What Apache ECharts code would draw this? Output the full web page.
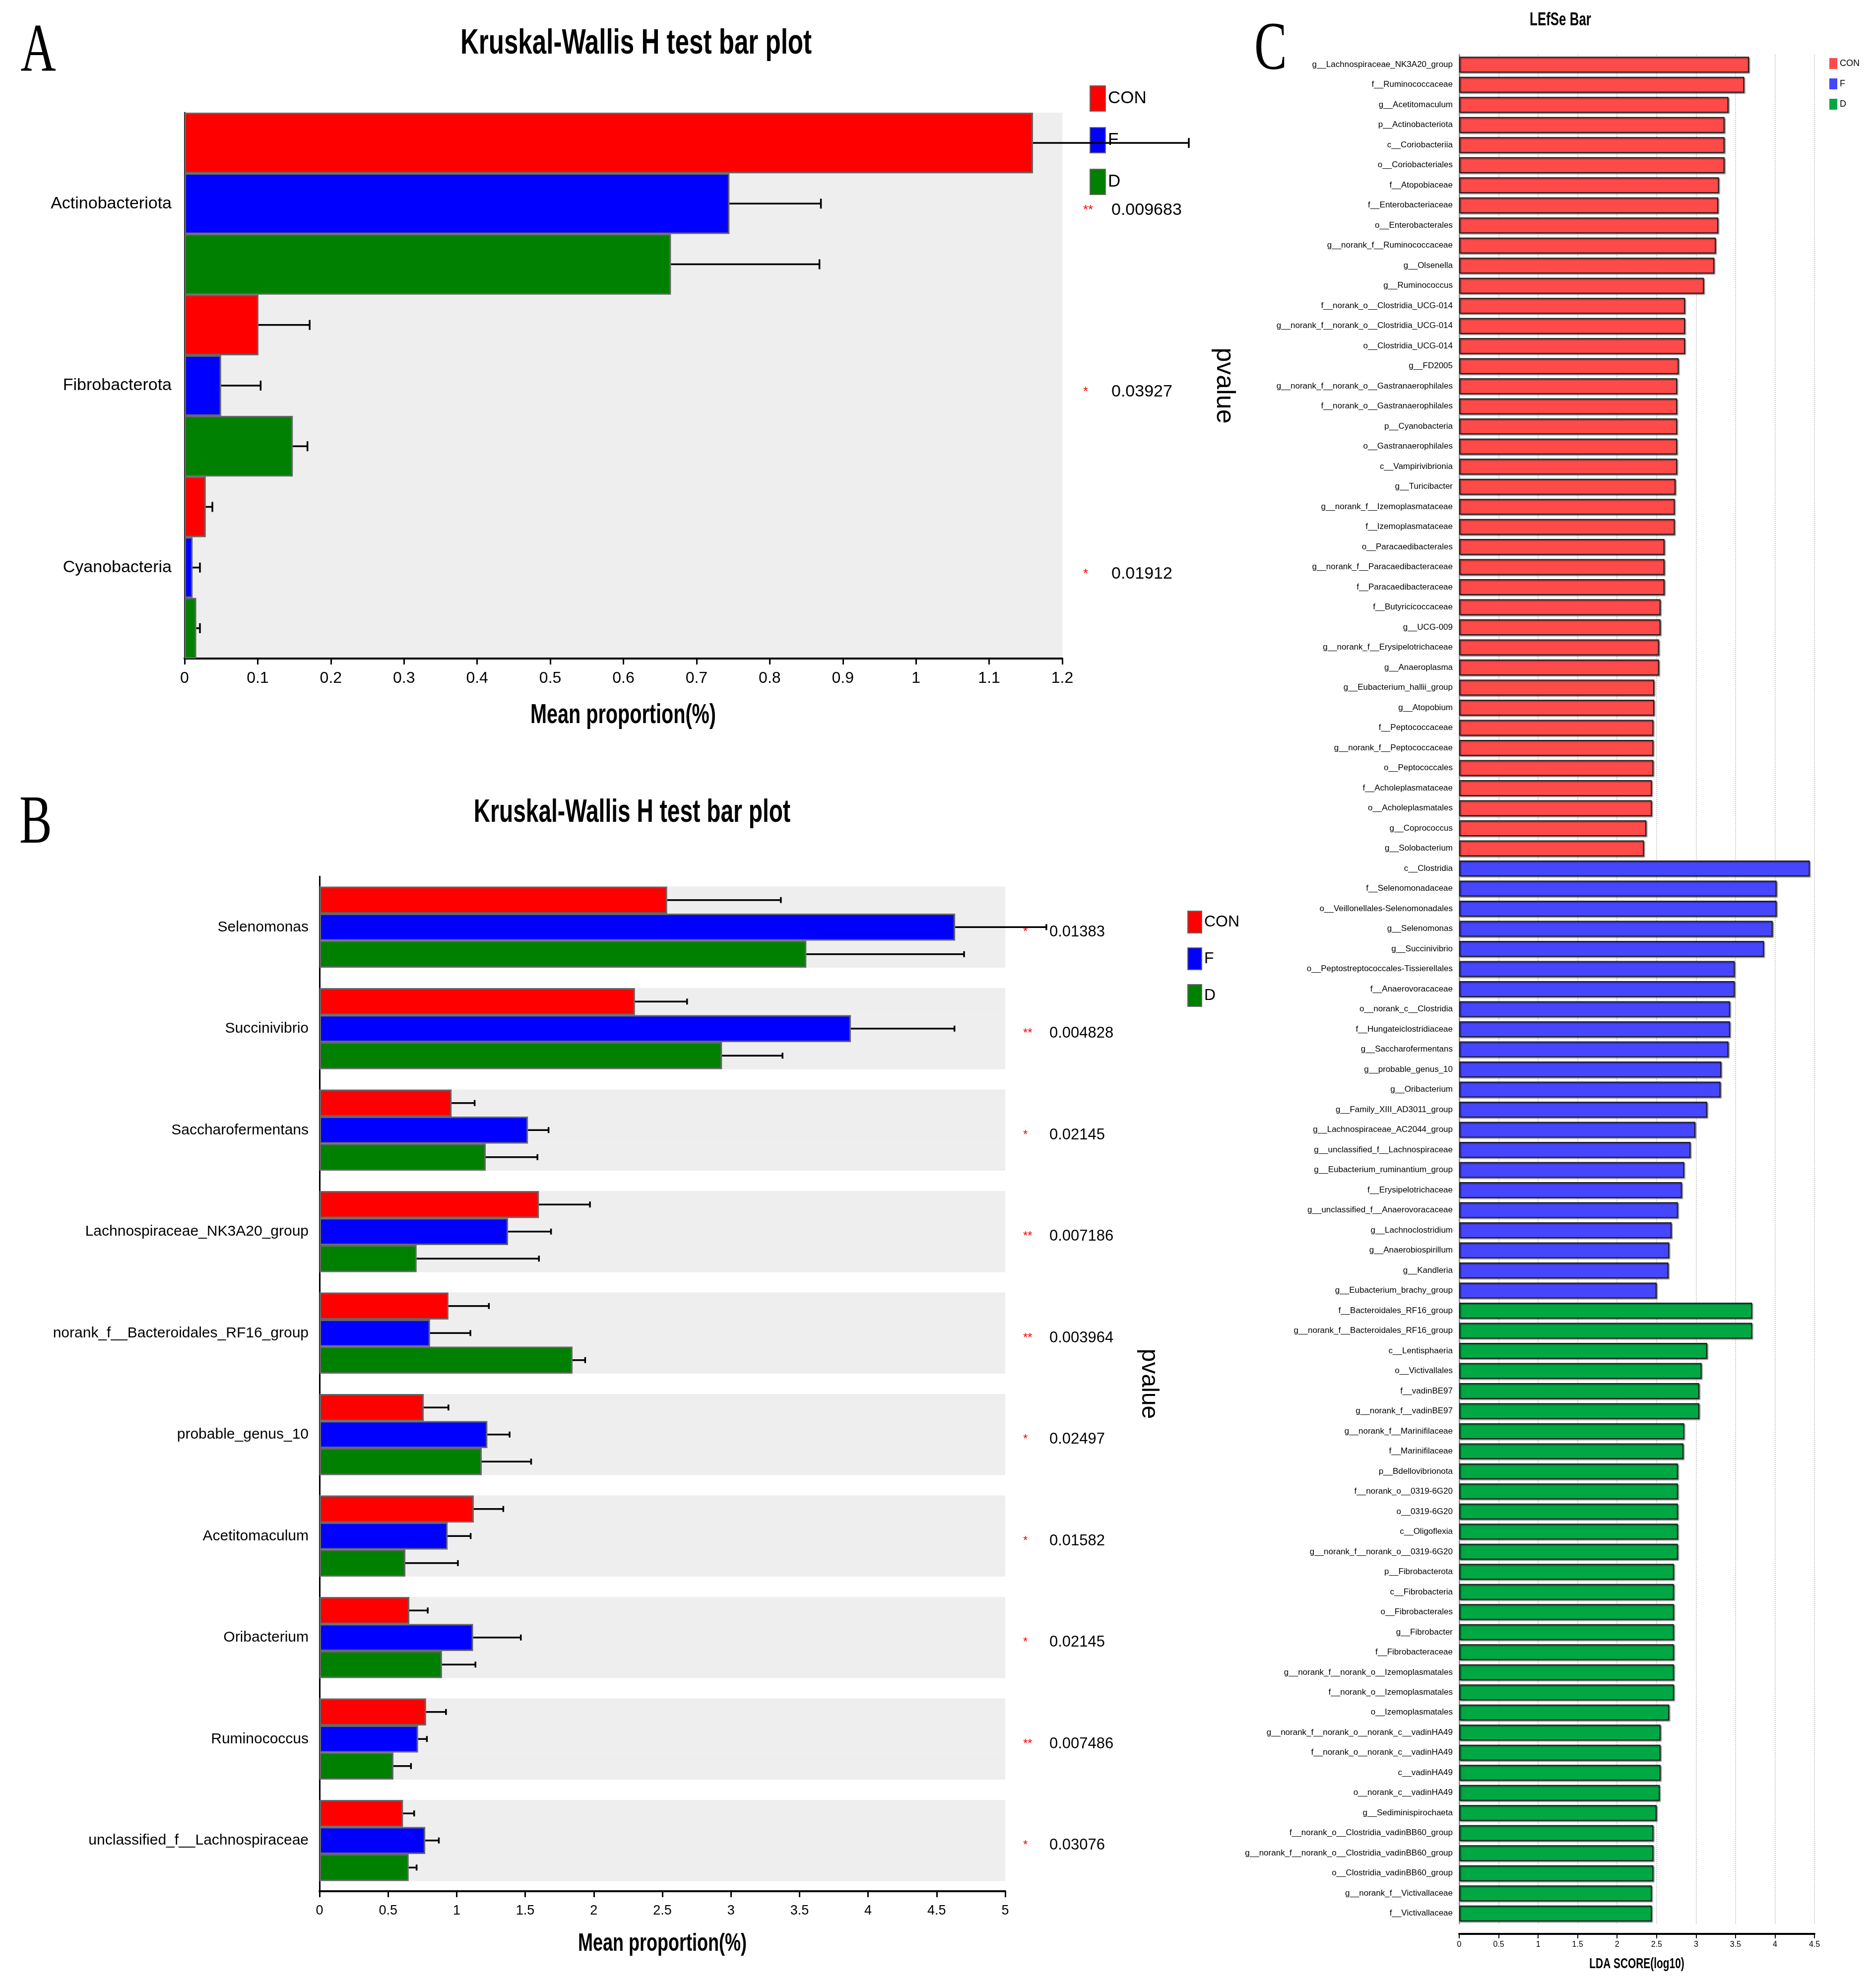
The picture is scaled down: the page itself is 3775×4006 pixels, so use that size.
<!DOCTYPE html>
<html><head><meta charset="utf-8">
<script src="https://cdn.jsdelivr.net/npm/echarts@6/dist/echarts.min.js"></script>
<style>html,body{margin:0;padding:0;background:#fff}#c{width:3775px;height:4006px}</style>
</head><body><div id="c"></div>
<script>
// ---------- Panel A data ----------
const catA = ['Actinobacteriota', 'Fibrobacterota', 'Cyanobacteria'];
const meanA_CON = [1.160, 0.101, 0.029];
const sdA_CON   = [0.213, 0.070, 0.009];
const meanA_F   = [0.745, 0.050, 0.011];
const sdA_F     = [0.125, 0.054, 0.010];
const meanA_D   = [0.665, 0.148, 0.016];
const sdA_D     = [0.203, 0.020, 0.005];
const pA    = ['0.009683', '0.03927', '0.01912'];
const starA = ['**', '*', '*'];
const ticksA = {min: 0, max: 1.2, interval: 0.1};

// ---------- Panel B data ----------
const catB = ['Selenomonas', 'Succinivibrio', 'Saccharofermentans', 'Lachnospiraceae_NK3A20_group',
  'norank_f__Bacteroidales_RF16_group', 'probable_genus_10', 'Acetitomaculum', 'Oribacterium',
  'Ruminococcus', 'unclassified_f__Lachnospiraceae'];
const meanB_CON = [2.535, 2.300, 0.963, 1.600, 0.940, 0.760, 1.125, 0.655, 0.777, 0.609];
const sdB_CON   = [0.829, 0.380, 0.168, 0.372, 0.295, 0.180, 0.215, 0.134, 0.145, 0.081];
const meanB_F   = [4.635, 3.875, 1.520, 1.375, 0.806, 1.224, 0.934, 1.120, 0.719, 0.771];
const sdB_F     = [0.665, 0.755, 0.150, 0.313, 0.294, 0.162, 0.168, 0.348, 0.064, 0.099];
const meanB_D   = [3.550, 2.935, 1.212, 0.708, 1.845, 1.183, 0.626, 0.893, 0.539, 0.650];
const sdB_D     = [1.150, 0.441, 0.377, 0.892, 0.092, 0.360, 0.383, 0.244, 0.128, 0.058];
const pB    = ['0.01383', '0.004828', '0.02145', '0.007186', '0.003964', '0.02497', '0.01582', '0.02145', '0.007486', '0.03076'];
const starB = ['*', '**', '*', '**', '**', '*', '*', '*', '**', '*'];
const ticksB = {min: 0, max: 5, interval: 0.5};

// ---------- Panel C data (LEfSe) ----------
const lefseNames_CON = ['g__Lachnospiraceae_NK3A20_group', 'f__Ruminococcaceae', 'g__Acetitomaculum', 'p__Actinobacteriota',
  'c__Coriobacteriia', 'o__Coriobacteriales', 'f__Atopobiaceae', 'f__Enterobacteriaceae', 'o__Enterobacterales',
  'g__norank_f__Ruminococcaceae', 'g__Olsenella', 'g__Ruminococcus', 'f__norank_o__Clostridia_UCG-014',
  'g__norank_f__norank_o__Clostridia_UCG-014', 'o__Clostridia_UCG-014', 'g__FD2005',
  'g__norank_f__norank_o__Gastranaerophilales', 'f__norank_o__Gastranaerophilales', 'p__Cyanobacteria',
  'o__Gastranaerophilales', 'c__Vampirivibrionia', 'g__Turicibacter', 'g__norank_f__Izemoplasmataceae',
  'f__Izemoplasmataceae', 'o__Paracaedibacterales', 'g__norank_f__Paracaedibacteraceae', 'f__Paracaedibacteraceae',
  'f__Butyricicoccaceae', 'g__UCG-009', 'g__norank_f__Erysipelotrichaceae', 'g__Anaeroplasma',
  'g__Eubacterium_hallii_group', 'g__Atopobium', 'f__Peptococcaceae', 'g__norank_f__Peptococcaceae',
  'o__Peptococcales', 'f__Acholeplasmataceae', 'o__Acholeplasmatales', 'g__Coprococcus', 'g__Solobacterium'];
const lefseScores_CON = [3.67, 3.61, 3.41, 3.36, 3.36, 3.36, 3.29, 3.28, 3.28, 3.25, 3.23, 3.10, 2.86, 2.86, 2.86, 2.78,
  2.76, 2.76, 2.76, 2.76, 2.76, 2.74, 2.73, 2.73, 2.60, 2.60, 2.60, 2.55, 2.55, 2.53, 2.53, 2.47, 2.47, 2.46, 2.46,
  2.46, 2.44, 2.44, 2.37, 2.34];
const lefseNames_F = ['c__Clostridia', 'f__Selenomonadaceae', 'o__Veillonellales-Selenomonadales', 'g__Selenomonas',
  'g__Succinivibrio', 'o__Peptostreptococcales-Tissierellales', 'f__Anaerovoracaceae', 'o__norank_c__Clostridia',
  'f__Hungateiclostridiaceae', 'g__Saccharofermentans', 'g__probable_genus_10', 'g__Oribacterium',
  'g__Family_XIII_AD3011_group', 'g__Lachnospiraceae_AC2044_group', 'g__unclassified_f__Lachnospiraceae',
  'g__Eubacterium_ruminantium_group', 'f__Erysipelotrichaceae', 'g__unclassified_f__Anaerovoracaceae',
  'g__Lachnoclostridium', 'g__Anaerobiospirillum', 'g__Kandleria', 'g__Eubacterium_brachy_group'];
const lefseScores_F = [4.44, 4.02, 4.02, 3.97, 3.86, 3.49, 3.49, 3.43, 3.43, 3.41, 3.32, 3.31, 3.14, 2.99, 2.93, 2.85,
  2.82, 2.77, 2.69, 2.66, 2.65, 2.50];
const lefseNames_D = ['f__Bacteroidales_RF16_group', 'g__norank_f__Bacteroidales_RF16_group', 'c__Lentisphaeria',
  'o__Victivallales', 'f__vadinBE97', 'g__norank_f__vadinBE97', 'g__norank_f__Marinifilaceae', 'f__Marinifilaceae',
  'p__Bdellovibrionota', 'f__norank_o__0319-6G20', 'o__0319-6G20', 'c__Oligoflexia', 'g__norank_f__norank_o__0319-6G20',
  'p__Fibrobacterota', 'c__Fibrobacteria', 'o__Fibrobacterales', 'g__Fibrobacter', 'f__Fibrobacteraceae',
  'g__norank_f__norank_o__Izemoplasmatales', 'f__norank_o__Izemoplasmatales', 'o__Izemoplasmatales',
  'g__norank_f__norank_o__norank_c__vadinHA49', 'f__norank_o__norank_c__vadinHA49', 'c__vadinHA49',
  'o__norank_c__vadinHA49', 'g__Sediminispirochaeta', 'f__norank_o__Clostridia_vadinBB60_group',
  'g__norank_f__norank_o__Clostridia_vadinBB60_group', 'o__Clostridia_vadinBB60_group', 'g__norank_f__Victivallaceae',
  'f__Victivallaceae'];
const lefseScores_D = [3.71, 3.71, 3.14, 3.07, 3.04, 3.04, 2.85, 2.84, 2.77, 2.77, 2.77, 2.77, 2.77, 2.72, 2.72, 2.72,
  2.72, 2.72, 2.72, 2.72, 2.66, 2.55, 2.55, 2.55, 2.54, 2.50, 2.46, 2.46, 2.46, 2.44, 2.44];
const ticksC = {min: 0, max: 4.5, interval: 0.5};

const groups = ['CON', 'F', 'D'];

// ---------- styles ----------
const SANS = "'Liberation Sans',Arial,sans-serif";
const SERIF = "'Liberation Serif','Times New Roman',serif";
const colAB = {CON: '#FF0000', F: '#0000FF', D: '#008000'};
const colC = {CON: '#FF4A4A', F: '#4646FF', D: '#00A844'};

// ---------- build ----------
const chart = echarts.init(document.getElementById('c'), null, {renderer: 'canvas', width: 3775, height: 4006});

function errSeries(xi, yi, means, sds, k, gapFrac, capHalf, lw) {
  return {
    type: 'custom', xAxisIndex: xi, yAxisIndex: yi, silent: true, z: 5, clip: false,
    name: 'err' + xi + '_' + k,
    data: means.map((m, i) => [i, m, m + sds[i]]),
    encode: {x: [1, 2], y: 0},
    renderItem(params, api) {
      const cat = api.value(0), m = api.value(1), e = api.value(2);
      const p0 = api.coord([m, cat]), p1 = api.coord([e, cat]);
      const band = api.size([0, 1])[1];
      const inner = band * (1 - gapFrac), bw = inner / 3;
      const y = p0[1] - inner / 2 + bw * (k + 0.5);
      const st = {stroke: '#000', lineWidth: lw};
      return {type: 'group', children: [
        {type: 'line', shape: {x1: p0[0], y1: y, x2: p1[0], y2: y}, style: st},
        {type: 'line', shape: {x1: p1[0], y1: y - capHalf, x2: p1[0], y2: y + capHalf}, style: st}
      ]};
    }
  };
}

const series = [];
const meansA = {CON: meanA_CON, F: meanA_F, D: meanA_D};
const sdsA = {CON: sdA_CON, F: sdA_F, D: sdA_D};
const meansB = {CON: meanB_CON, F: meanB_F, D: meanB_D};
const sdsB = {CON: sdB_CON, F: sdB_F, D: sdB_D};

groups.forEach(g => {
  series.push({
    type: 'bar', name: g, xAxisIndex: 0, yAxisIndex: 0, data: meansA[g],
    barGap: '0%', barCategoryGap: '0%',
    itemStyle: {color: colAB[g], borderColor: '#666', borderWidth: 3}
  });
});
groups.forEach((g, k) => series.push(errSeries(0, 0, meansA[g], sdsA[g], k, 0, 10, 3.5)));

groups.forEach(g => {
  series.push({
    type: 'bar', name: g, xAxisIndex: 1, yAxisIndex: 2, data: meansB[g],
    barGap: '0%', barCategoryGap: '20%',
    showBackground: true, backgroundStyle: {color: '#EEEEEE'},
    itemStyle: {color: colAB[g], borderColor: '#666', borderWidth: 3}
  });
});
groups.forEach((g, k) => series.push(errSeries(1, 2, meansB[g], sdsB[g], k, 0.2, 6, 3.5)));

const lefseNames = lefseNames_CON.concat(lefseNames_F, lefseNames_D);
const lefseByGroup = {CON: lefseScores_CON, F: lefseScores_F, D: lefseScores_D};
const lefseNamesByGroup = {CON: lefseNames_CON, F: lefseNames_F, D: lefseNames_D};
groups.forEach(g => {
  const data = lefseNames.map(n => {
    const idx = lefseNamesByGroup[g].indexOf(n);
    return idx >= 0 ? lefseByGroup[g][idx] : '-';
  });
  series.push({
    type: 'bar', name: g, xAxisIndex: 2, yAxisIndex: 4, data,
    barGap: '-100%', barCategoryGap: '21%',
    itemStyle: {color: colC[g], borderColor: '#1a1a1a', borderWidth: 2,
      shadowColor: 'rgba(0,0,0,0.45)', shadowBlur: 2, shadowOffsetX: 2, shadowOffsetY: 2}
  });
});

function valueAxis(grid, t, fs, margin, lw, extra) {
  return Object.assign({
    type: 'value', gridIndex: grid, min: t.min, max: t.max, interval: t.interval,
    axisLine: {show: true, onZero: false, lineStyle: {color: '#000', width: lw}},
    axisTick: {show: true, inside: false, length: 12, lineStyle: {color: '#000', width: 3}},
    axisLabel: {show: true, fontFamily: SANS, fontSize: fs, color: '#000', margin},
    splitLine: {show: false}
  }, extra || {});
}

function squishText(x, y, text, font) {
  return {type: 'text', x, y, scaleX: 0.72, style: {text, font, fill: '#000', align: 'center', verticalAlign: 'middle'}};
}

const option = {
  backgroundColor: '#fff',
  animation: false,
  grid: [
    {left: 372, top: 227, width: 1769, height: 1100, show: true, backgroundColor: '#EEEEEE', borderWidth: 0},
    {left: 644, top: 1766, width: 1382, height: 2045},
    {left: 2941, top: 110, width: 716, height: 3766}
  ],
  xAxis: [
    valueAxis(0, ticksA, 32, 24, 4),
    valueAxis(1, ticksB, 27, 26, 4),
    valueAxis(2, ticksC, 16, 14, 4, {
      offset: 21,
      axisTick: {show: true, inside: false, length: 9, lineStyle: {color: '#000', width: 2}},
      splitLine: {show: true, lineStyle: {type: 'dotted', color: '#c8c8c8', width: 2}}
    })
  ],
  yAxis: [
    {type: 'category', gridIndex: 0, data: catA, inverse: true,
     axisLine: {show: true, lineStyle: {color: '#000', width: 3}}, axisTick: {show: false},
     axisLabel: {fontFamily: SANS, fontSize: 34, color: '#000', margin: 26}},
    {type: 'category', gridIndex: 0, data: catA, inverse: true, position: 'right',
     axisLine: {show: false}, axisTick: {show: false},
     axisLabel: {margin: 42, padding: [26, 0, 0, 0],
       formatter: (v, i) => '{s|' + starA[i] + '}{v|' + pA[i] + '}',
       rich: {s: {color: '#FF0000', fontSize: 26, fontFamily: SANS, width: 57, align: 'left'},
              v: {color: '#000', fontSize: 34, fontFamily: SANS}}},
     name: 'pvalue', nameLocation: 'middle', nameRotate: -90, nameGap: 300,
     nameTextStyle: {fontFamily: SANS, fontSize: 52, color: '#000'}},
    {type: 'category', gridIndex: 1, data: catB, inverse: true,
     axisLine: {show: true, lineStyle: {color: '#000', width: 3}}, axisTick: {show: false},
     axisLabel: {fontFamily: SANS, fontSize: 30, color: '#000', margin: 22, interval: 0}},
    {type: 'category', gridIndex: 1, data: catB, inverse: true, position: 'right',
     axisLine: {show: false}, axisTick: {show: false},
     axisLabel: {margin: 36, interval: 0, padding: [20, 0, 0, 0],
       formatter: (v, i) => '{s|' + starB[i] + '}{v|' + pB[i] + '}',
       rich: {s: {color: '#FF0000', fontSize: 24, fontFamily: SANS, width: 53, align: 'left'},
              v: {color: '#000', fontSize: 31, fontFamily: SANS}}},
     name: 'pvalue', nameLocation: 'middle', nameRotate: -90, nameGap: 265,
     nameTextStyle: {fontFamily: SANS, fontSize: 48, color: '#000'}},
    {type: 'category', gridIndex: 2, data: lefseNames, inverse: true,
     axisLine: {show: true, lineStyle: {color: '#9a9a9a', width: 3}}, axisTick: {show: false},
     axisLabel: {fontFamily: SANS, fontSize: 17, color: '#000', margin: 13, interval: 0}}
  ],
  legend: [
    {left: 2191, top: 167, orient: 'vertical', icon: 'rect', itemWidth: 31, itemHeight: 51, itemGap: 31,
     data: groups, textStyle: {fontFamily: SANS, fontSize: 35, color: '#000'},
     itemStyle: {borderColor: '#666', borderWidth: 2}, selectedMode: false},
    {left: 2388, top: 1830, orient: 'vertical', icon: 'rect', itemWidth: 28, itemHeight: 44, itemGap: 28,
     data: groups, textStyle: {fontFamily: SANS, fontSize: 32, color: '#000'},
     itemStyle: {borderColor: '#666', borderWidth: 2}, selectedMode: false},
    {left: 3682, top: 112, orient: 'vertical', icon: 'rect', itemWidth: 16, itemHeight: 22, itemGap: 19,
     data: groups.map(g => ({name: g, itemStyle: {color: colC[g], borderWidth: 0}})),
     textStyle: {fontFamily: SANS, fontSize: 18, color: '#000'}, selectedMode: false}
  ],
  graphic: [
    squishText(1282, 88, 'Kruskal-Wallis H test bar plot', 'bold 71px ' + SANS),
    squishText(1274, 1638, 'Kruskal-Wallis H test bar plot', 'bold 64px ' + SANS),
    squishText(3145, 41, 'LEfSe Bar', 'bold 36px ' + SANS),
    squishText(1256, 1442, 'Mean proportion(%)', 'bold 55px ' + SANS),
    squishText(1335, 3917, 'Mean proportion(%)', 'bold 50px ' + SANS),
    squishText(3299, 3958, 'LDA SCORE(log10)', 'bold 29px ' + SANS),
    squishText(77, 106, 'A', '137px ' + SERIF),
    squishText(72, 1662, 'B', '137px ' + SERIF),
    squishText(2561, 103, 'C', '137px ' + SERIF)
  ],
  series
};
chart.setOption(option);
</script></body></html>
